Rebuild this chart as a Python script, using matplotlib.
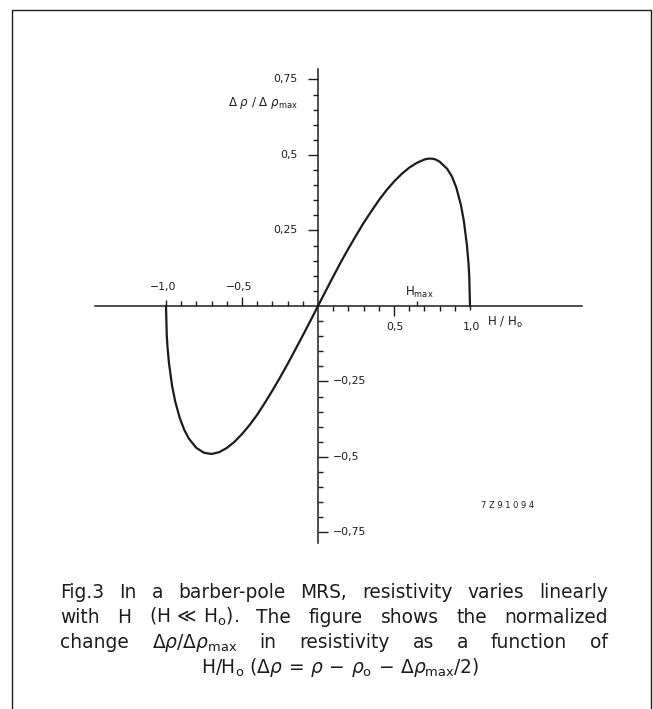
import matplotlib
matplotlib.use("Agg")
import matplotlib.pyplot as plt
from matplotlib.patches import Rectangle

plt.rcParams['font.family'] = ['DejaVu Sans']
plt.rcParams['mathtext.fontset'] = 'dejavusans'

# --- data ----------------------------------------------------------------
h_ratio = [-1.0, -0.995, -0.99, -0.98, -0.96, -0.94, -0.91, -0.88, -0.85,
           -0.80, -0.75, -0.70, -0.65, -0.60, -0.55, -0.50, -0.45, -0.40,
           -0.35, -0.30, -0.25, -0.20, -0.15, -0.10, -0.05, 0.0,
           0.05, 0.10, 0.15, 0.20, 0.25, 0.30, 0.35, 0.40, 0.45, 0.50,
           0.55, 0.60, 0.65, 0.70, 0.725, 0.75, 0.775, 0.80, 0.85, 0.88,
           0.91, 0.94, 0.96, 0.98, 0.99, 0.995, 1.0]
drho = [0.0, -0.097, -0.137, -0.191, -0.264, -0.315, -0.37, -0.41, -0.439,
        -0.47, -0.486, -0.49, -0.484, -0.47, -0.45, -0.424, -0.394, -0.36,
        -0.321, -0.28, -0.237, -0.192, -0.145, -0.0975, -0.049, 0.0,
        0.049, 0.0975, 0.145, 0.19, 0.233, 0.275, 0.313, 0.35, 0.383, 0.412,
        0.437, 0.458, 0.474, 0.485, 0.488, 0.488, 0.485, 0.478, 0.454, 0.43,
        0.392, 0.335, 0.28, 0.2, 0.142, 0.1, 0.0]

x_minor_neg = [-0.9, -0.8, -0.7, -0.6, -0.4, -0.3, -0.2, -0.1]
x_minor_pos = [0.1, 0.2, 0.3, 0.4, 0.6, 0.7, 0.8, 0.9]
x_labels_neg = ["\u22121,0", "\u22120,5"]
x_label_neg_at = [-1.0, -0.5]
x_labels_pos = ["0,5", "1,0"]
x_label_pos_at = [0.5, 1.0]
h_max_at = 0.65

y_minor_pos = [0.05, 0.10, 0.15, 0.20, 0.30, 0.35, 0.40, 0.45,
               0.55, 0.60, 0.65, 0.70]
y_minor_neg = [-0.05, -0.10, -0.15, -0.20, -0.30, -0.35, -0.40, -0.45,
               -0.55, -0.60, -0.65, -0.70]
y_major_pos = [0.25, 0.5, 0.75]
y_labels_pos = ["0,25", "0,5", "0,75"]
y_major_neg = [-0.25, -0.5, -0.75]
y_labels_neg = ["\u22120,25", "\u22120,5", "\u22120,75"]

caption_lines = [
    ["Fig.3", "In", "a", "barber-pole", "MRS,", "resistivity", "varies",
     "linearly"],
    ["with", "H", r"(H$\,\ll\,$H$_{\mathrm{o}}$).", "The", "figure", "shows",
     "the", "normalized"],
    ["change", r"$\Delta\rho/\Delta\rho_{\mathrm{max}}$", "in", "resistivity",
     "as", "a", "function", "of"],
]
caption_last = (r"H/H$_{\mathrm{o}}$ ($\Delta\rho\,=\,\rho\,-\,\rho_{\mathrm{o}}"
                r"\,-\,\Delta\rho_{\mathrm{max}}/2$)")

# --- layout ---------------------------------------------------------------
W, H = 653, 709
ink = "#1c1c1c"
ox, oy = 318, 306        # origin in pixels
sx, sy = 152, 302        # pixels per unit

fig = plt.figure(figsize=(W / 100, H / 100), dpi=100)
fig.patch.set_facecolor("white")

xlim = (-1.6, 1.9)
ylim = (-0.9, 0.9)
left = ox + xlim[0] * sx
ax = fig.add_axes([left / W, 1 - (oy - ylim[0] * sy) / H,
                   (xlim[1] - xlim[0]) * sx / W, (ylim[1] - ylim[0]) * sy / H])
ax.set_xlim(*xlim)
ax.set_ylim(*ylim)
ax.set_facecolor("none")

for side in ["top", "right"]:
    ax.spines[side].set_visible(False)
for side in ["left", "bottom"]:
    ax.spines[side].set_position(("data", 0))
    ax.spines[side].set_linewidth(1.1)
    ax.spines[side].set_color(ink)
ax.spines["bottom"].set_bounds(-1.47, 1.74)
ax.spines["left"].set_bounds(-0.785, 0.785)
ax.set_xticks([])
ax.set_yticks([])

ax.plot(h_ratio, drho, color=ink, lw=1.6, solid_joinstyle="round")

# tick marks
tk = dict(ls="none", color=ink, mew=1.0)
ax.plot(x_minor_neg, [0] * len(x_minor_neg), marker=2, ms=3.8, **tk)
ax.plot([-0.5], [0], marker=2, ms=6.5, **tk)
ax.plot([-1.0], [0], marker=2, ms=4.5, **tk)
ax.plot(x_minor_pos, [0] * len(x_minor_pos), marker=3, ms=3.8, **tk)
ax.plot([0.5], [0], marker=3, ms=7.0, **tk)
ax.plot([1.0], [0], marker=3, ms=3.0, **tk)
ax.plot([h_max_at], [0], marker=2, ms=3.8, **tk)
ax.plot([0] * len(y_minor_pos), y_minor_pos, marker=0, ms=3.8, **tk)
ax.plot([0] * len(y_major_pos), y_major_pos, marker=0, ms=7.0, **tk)
ax.plot([0] * len(y_minor_neg), y_minor_neg, marker=1, ms=3.8, **tk)
ax.plot([0] * len(y_major_neg), y_major_neg, marker=1, ms=7.0, **tk)

# tick labels
fs = 7.8
for v, s in zip(x_label_neg_at, x_labels_neg):
    ax.annotate(s, (v, 0), xytext=(-2, 13.5), textcoords="offset points",
                ha="center", va="center", fontsize=fs, color=ink)
for v, s in zip(x_label_pos_at, x_labels_pos):
    ax.annotate(s, (v, 0), xytext=(1, -15), textcoords="offset points",
                ha="center", va="center", fontsize=fs, color=ink)
for v, s in zip(y_major_pos, y_labels_pos):
    ax.annotate(s, (0, v), xytext=(-15, 0), textcoords="offset points",
                ha="right", va="center", fontsize=fs, color=ink)
for v, s in zip(y_major_neg, y_labels_neg):
    ax.annotate(s, (0, v), xytext=(10.5, 0), textcoords="offset points",
                ha="left", va="center", fontsize=fs, color=ink)

ax.annotate(r"H$_{\mathrm{max}}$", (h_max_at, 0), xytext=(2, 10),
            textcoords="offset points", ha="center", va="center",
            fontsize=8.5, color=ink)
ax.annotate(r"H / H$_{\mathrm{o}}$", (1.74, 0), xytext=(-69, -11.5),
            textcoords="offset points", ha="left", va="center",
            fontsize=8.5, color=ink)
ax.annotate(r"$\Delta\ \rho\ /\ \Delta\ \rho_{\mathrm{max}}$", (0, 0.672),
            xytext=(-65, 0), textcoords="offset points", ha="left",
            va="center", fontsize=8.5, color=ink)
ax.annotate("7 Z 9 1 0 9 4", (1.74, -0.659), xytext=(-73, 0),
            textcoords="offset points", ha="left", va="center",
            fontsize=6.0, color=ink)

# frame round the whole figure
fig.add_artist(Rectangle((12 / W, -0.05), (651 - 12) / W, 1.05 - 10 / H,
                         transform=fig.transFigure, fill=False, lw=1.0,
                         ec=ink))

# caption, justified like the printed text
cfs = 13.4
x0, x1 = 60, 608
baselines = [598, 623, 648]
renderer = fig.canvas.get_renderer()
for words, base in zip(caption_lines, baselines):
    items = [fig.text(0, 1 - base / H, w, fontsize=cfs, va="baseline",
                      color=ink) for w in words]
    widths = [t.get_window_extent(renderer).width for t in items]
    gap = (x1 - x0 - sum(widths)) / (len(items) - 1)
    x = x0
    for t, w in zip(items, widths):
        t.set_x(x / W)
        x += w + gap
fig.text(340 / W, 1 - 673 / H, caption_last, fontsize=cfs, va="baseline",
         ha="center", color=ink)

fig.savefig("out.png", dpi=100)
